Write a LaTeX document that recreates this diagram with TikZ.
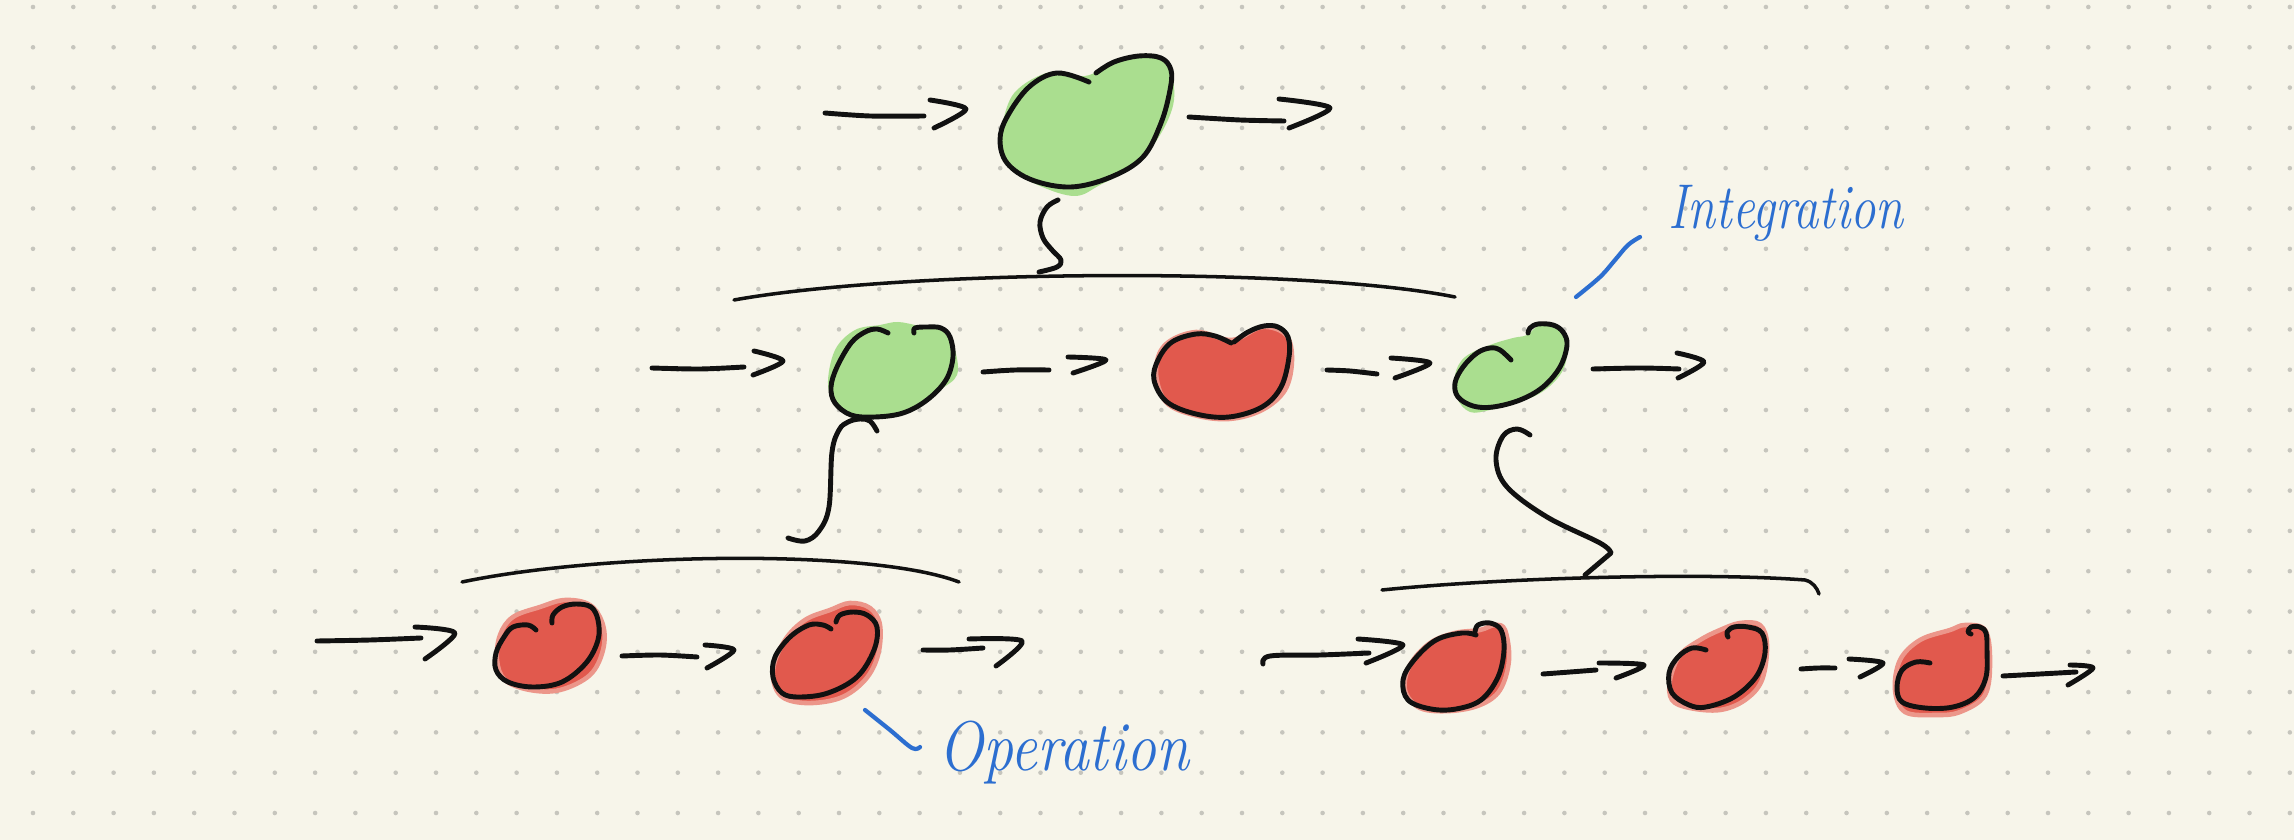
\documentclass[tikz,border=0pt]{standalone}
\usepackage{graphicx}
\definecolor{paper}{RGB}{247,245,234}
\definecolor{dotc}{RGB}{198,197,189}
\definecolor{inkc}{RGB}{17,17,17}
\definecolor{leaf}{RGB}{170,222,143}
\definecolor{tomato}{RGB}{225,89,77}
\definecolor{tomatolt}{RGB}{236,150,138}
\definecolor{pen}{RGB}{44,110,208}
\tikzset{
  ink/.style={draw=inkc, line width=1.4pt, line cap=round, line join=round},
  thinink/.style={draw=inkc, line width=1.0pt, line cap=round},
  greenfill/.style={fill=leaf},
  redfill/.style={fill=tomato, draw=tomatolt, line width=1.3pt, line join=round},
  bluepen/.style={draw=pen, line width=1.2pt, line cap=round, line join=round},
  handlabel/.style={text=pen, inner sep=0pt, anchor=base west},
}
\begin{document}
\begin{tikzpicture}[x=0.01cm, y=-0.01cm]
\useasboundingbox (0,0) rectangle (2294,840);
\fill[paper] (0,0) rectangle (2294,840);
\foreach \i in {0,...,56}{
  \foreach \j in {0,...,20}{
    \fill[dotc] ({33+40.3*\i},{7+40.3*\j}) circle (0.65pt);
  }
}

% ---------- named reference points ----------
\coordinate (g1) at (1085,125);
\coordinate (g2) at (892,372);
\coordinate (rm) at (1222,372);
\coordinate (g3) at (1510,368);
\coordinate (r1) at (548,645);
\coordinate (r2) at (825,655);
\coordinate (rb1) at (1455,668);
\coordinate (rb2) at (1717,668);
\coordinate (rb3) at (1943,668);

% ---------- top green blob ----------
\fill[greenfill] plot[smooth cycle, tension=0.6] coordinates {
 (1002,125) (1015,92) (1050,72) (1085,76) (1112,64) (1145,57) (1168,66)
 (1174,100) (1160,135) (1135,165) (1100,185) (1075,196) (1040,186) (1010,168) (1000,145)};
\draw[ink] plot[smooth, tension=0.6] coordinates {
 (1089,82) (1057,73) (1029,87) (1007,117) (1000,140) (1007,163) (1032,180)
 (1071,187) (1111,177) (1143,157) (1161,123) (1170,90) (1171,70) (1161,58)
 (1139,56) (1114,62) (1096,73)};

% top arrows
\draw[ink] plot[smooth] coordinates {(825,113) (870,116) (924,116)};
\draw[ink] plot[smooth, tension=0.5] coordinates {(930,100) (966,109) (934,128)};
\draw[ink] plot[smooth] coordinates {(1189,117) (1240,120) (1284,121)};
\draw[ink] plot[smooth, tension=0.5] coordinates {(1279,99) (1330,108) (1289,128)};

% squiggle to bracket 1
\draw[ink] plot[smooth, tension=0.6] coordinates {
 (1058,200) (1047,207) (1040,222) (1043,238) (1052,250) (1061,260) (1057,267) (1039,272)};
\draw[thinink] (734,300) .. controls (900,270) and (1300,266) .. (1455,297);

% ---------- middle row ----------
\draw[ink] plot[smooth] coordinates {(652,368) (700,369) (744,367)};
\draw[ink] plot[smooth, tension=0.5] coordinates {(754,351) (783,361) (753,375)};

\fill[greenfill] plot[smooth cycle, tension=0.6] coordinates {
 (828,385) (835,350) (855,330) (880,325) (898,322) (920,326) (945,330) (955,350)
 (957,375) (940,390) (920,405) (890,415) (860,418) (838,408)};
\draw[ink] plot[smooth, tension=0.6] coordinates {
 (888,333) (877,329) (865,332) (851,343) (837,367) (831,387) (835,403) (851,415)
 (875,417) (903,413) (927,400) (946,380) (953,357) (950,337) (941,328) (927,327)
 (915,328) (914,333)};

\draw[ink] plot[smooth] coordinates {(983,372) (1015,370) (1049,370)};
\draw[ink] plot[smooth, tension=0.5] coordinates {(1068,357) (1106,360) (1073,373)};

\filldraw[redfill] plot[smooth cycle, tension=0.6] coordinates {
 (1156,372) (1165,345) (1196,332) (1232,340) (1262,327) (1286,335) (1292,360)
 (1285,390) (1262,410) (1229,419) (1194,415) (1166,402)};
\draw[ink] plot[smooth, tension=0.6] coordinates {
 (1231,343) (1215,336) (1196,334) (1172,342) (1158,360) (1154,380) (1167,402)
 (1196,414) (1229,417) (1262,407) (1281,387) (1289,357) (1288,337) (1278,327)
 (1264,326) (1248,332) (1234,342)};

\draw[ink] plot[smooth] coordinates {(1327,370) (1350,371) (1377,374)};
\draw[ink] plot[smooth, tension=0.5] coordinates {(1391,358) (1430,363) (1395,378)};

\fill[greenfill] plot[smooth cycle, tension=0.6] coordinates {
 (1455,375) (1465,357) (1490,345) (1513,338) (1527,335) (1540,325) (1558,328)
 (1567,345) (1563,370) (1545,390) (1520,402) (1490,410) (1470,412) (1457,398)};
\draw[ink] plot[smooth, tension=0.6] coordinates {
 (1511,360) (1500,350) (1490,348) (1477,353) (1463,367) (1455,383) (1458,397)
 (1473,406) (1493,407) (1520,400) (1543,387) (1560,367) (1567,345) (1563,332)
 (1553,325) (1538,324) (1530,328) (1528,333)};

\draw[ink] plot[smooth] coordinates {(1593,369) (1640,368) (1679,369)};
\draw[ink] plot[smooth, tension=0.5] coordinates {(1677,353) (1704,362) (1678,378)};

% connector from middle green to bracket 2
\draw[ink] plot[smooth, tension=0.6] coordinates {
 (877,431) (870,421) (860,419) (848,422) (839,430) (832,452) (829,507) (819,531) (805,541) (788,538)};
\draw[thinink] (462,582) .. controls (600,553) and (870,548) .. (959,582);

% connector from right green to bracket 3
\draw[ink] plot[smooth, tension=0.6] coordinates {
 (1530,435) (1517,429) (1503,436) (1496,460) (1507,487) (1547,517) (1600,543) (1611,553)}
 -- (1585,575);
\draw[thinink] (1382,590) .. controls (1500,578) and (1700,572) .. (1805,580)
  .. controls (1813,582) and (1817,588) .. (1819,594);

% ---------- bottom left row ----------
\draw[ink] plot[smooth] coordinates {(317,641) (370,640) (421,638)};
\draw[ink] plot[smooth, tension=0.5] coordinates {(415,627) (455,633) (425,659)};

\filldraw[redfill] plot[smooth cycle, tension=0.6] coordinates {
 (500,635) (513,617) (540,607) (565,600) (590,605) (603,625) (603,650) (590,675)
 (560,690) (530,690) (505,680) (497,660)};
\draw[ink] plot[smooth, tension=0.6] coordinates {
 (536,630) (528,625) (513,627) (504,637) (496,653) (496,670) (508,682) (533,687)
 (562,682) (586,663) (598,640) (598,620) (591,607) (576,604) (562,607) (553,615) (552,623)};

\draw[ink] plot[smooth] coordinates {(622,656) (660,655) (697,657)};
\draw[ink] plot[smooth, tension=0.5] coordinates {(705,645) (734,650) (707,668)};

\filldraw[redfill] plot[smooth cycle, tension=0.6] coordinates {
 (773,670) (785,640) (805,620) (830,610) (850,603) (870,608) (880,625) (878,655)
 (865,680) (840,698) (805,703) (780,695)};
\draw[ink] plot[smooth, tension=0.6] coordinates {
 (831,629) (823,625) (809,625) (790,637) (775,657) (773,677) (782,693) (799,697)
 (828,693) (857,677) (874,650) (877,627) (867,615) (853,612) (840,615) (836,622)};

\draw[ink] plot[smooth] coordinates {(923,650) (950,650) (983,648)};
\draw[ink] plot[smooth, tension=0.5] coordinates {(969,639) (1022,641) (996,666)};

% ---------- bottom right row ----------
\draw[ink] plot[smooth, tension=0.6] coordinates {(1263,664) (1270,656) (1320,655) (1369,653)};
\draw[ink] plot[smooth, tension=0.5] coordinates {(1358,639) (1403,645) (1366,663)};

\filldraw[redfill] plot[smooth cycle, tension=0.6] coordinates {
 (1405,690) (1410,665) (1430,643) (1455,633) (1480,630) (1495,625) (1505,630)
 (1509,660) (1500,690) (1480,705) (1450,711) (1420,708)};
\draw[ink] plot[smooth, tension=0.6] coordinates {
 (1476,635) (1462,633) (1436,640) (1414,660) (1403,680) (1408,700) (1431,709)
 (1456,709) (1481,700) (1498,677) (1504,650) (1501,630) (1490,623) (1478,625) (1475,632)};

\draw[ink] plot[smooth] coordinates {(1543,674) (1570,672) (1596,670)};
\draw[ink] plot[smooth, tension=0.5] coordinates {(1599,663) (1644,665) (1616,678)};

\filldraw[redfill] plot[smooth cycle, tension=0.6] coordinates {
 (1670,680) (1680,655) (1700,640) (1720,630) (1740,623) (1760,625) (1767,645)
 (1762,680) (1745,700) (1720,710) (1690,708) (1672,700)};
\draw[ink] plot[smooth, tension=0.6] coordinates {
 (1706,650) (1692,648) (1678,657) (1669,673) (1672,693) (1689,705) (1706,707)
 (1734,697) (1756,677) (1765,653) (1762,633) (1748,627) (1734,627) (1727,632) (1728,637)};

\draw[ink] plot[smooth] coordinates {(1801,669) (1818,668) (1835,668)};
\draw[ink] plot[smooth, tension=0.5] coordinates {(1849,659) (1883,663) (1860,677)};

\filldraw[redfill] plot[smooth cycle, tension=0.6] coordinates {
 (1895,690) (1900,660) (1920,640) (1950,630) (1965,625) (1985,630) (1990,660)
 (1985,695) (1960,712) (1935,715) (1905,712)};
\draw[ink] plot[smooth, tension=0.6] coordinates {
 (1930,663) (1916,662) (1902,670) (1897,687) (1902,702) (1925,708) (1953,707)
 (1975,697) (1986,677) (1987,650) (1986,633) (1980,627) (1971,627) (1968,632) (1971,634)};

\draw[ink] plot[smooth] coordinates {(2003,676) (2040,674) (2076,672)};
\draw[ink] plot[smooth, tension=0.5] coordinates {(2070,665) (2093,668) (2068,685)};

% ---------- labels ----------
\node[handlabel] (lint) at (1668,229)
  {\scalebox{0.8}[1]{\fontsize{18}{18}\selectfont\itshape Integration}};
\draw[bluepen] plot[smooth, tension=0.6] coordinates {
 (1640,237) (1628,245) (1615,260) (1600,277) (1576,297)};

\node[handlabel] (lop) at (938,770)
  {\scalebox{0.85}[1]{\fontsize{20}{20}\selectfont\itshape Operation}};
\draw[bluepen] plot[smooth, tension=0.6] coordinates {
 (865,710) (890,730) (912,748) (920,747)};
\end{tikzpicture}
\end{document}
